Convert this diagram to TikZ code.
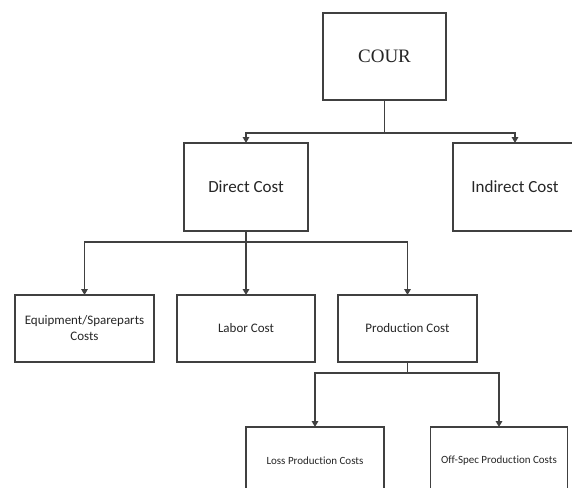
\documentclass[tikz,border=0pt]{standalone}
\usepackage{fontspec}
\setmainfont{Carlito}[Ligatures=NoCommon]
\newfontfamily\courfont{Liberation Serif}
\usetikzlibrary{arrows.meta}
\definecolor{boxline}{HTML}{404040}
\definecolor{conline}{HTML}{404040}
\tikzset{
  box/.style={draw=boxline, line width=1.3pt, fill=white, rectangle, inner sep=2pt, outer sep=0pt, align=center, text=black!85},
  arr/.style={draw=conline, line width=1.8pt, -{Triangle[length=6pt,width=6.5pt]}},
  con/.style={draw=conline, line width=1.8pt},
}
\begin{document}
\begin{tikzpicture}[x=1pt,y=-1pt]
\useasboundingbox (0,0) rectangle (572,487);
\fill[white] (0,0) rectangle (572,487);
\begin{scope}
\clip (0,0) rectangle (572,487);
\node[box, minimum width=123pt, minimum height=87pt, font=\courfont\fontsize{19}{22}\selectfont] (cour) at (384.5,56.5) {COUR};
\node[box, minimum width=124pt, minimum height=88pt, font=\fontsize{17}{20}\selectfont] (direct) at (246,187) {Direct Cost};
\node[box, minimum width=124pt, minimum height=88pt, font=\fontsize{17}{20}\selectfont] (indirect) at (515,187) {Indirect Cost};
\node[box, minimum width=139pt, minimum height=67pt, font=\fontsize{13}{16}\selectfont] (equip) at (84.5,328.5) {Equipment/Spareparts\\Costs};
\node[box, minimum width=138pt, minimum height=67pt, font=\fontsize{13}{16}\selectfont] (labor) at (246,328.5) {Labor Cost};
\node[box, minimum width=139pt, minimum height=67pt, font=\fontsize{13}{16}\selectfont] (prod) at (407.5,328.5) {Production Cost};
\node[box, minimum width=138pt, minimum height=67pt, font=\fontsize{11}{14}\selectfont] (loss) at (315,460.5) {Loss Production Costs};
\node[box, minimum width=137pt, minimum height=67pt, font=\fontsize{11}{14}\selectfont] (offspec) at (499,460.5) {Off-Spec Production Costs};

\coordinate (j1) at (384.5,133);
\coordinate (j2) at (246,242.3);
\coordinate (j3) at (407.5,372.7);

\draw[con] (cour.south) -- (j1);
\draw[arr] (j1) -| (direct.north);
\draw[arr] (j1) -| (indirect.north);

\draw[arr] (direct.south) -- (labor.north);
\draw[arr] (j2) -| (equip.north);
\draw[arr] (j2) -| (prod.north);

\draw[con] (prod.south) -- (j3);
\draw[arr] (j3) -| (loss.north);
\draw[arr] (j3) -| (offspec.north);
\end{scope}
\end{tikzpicture}
\end{document}
